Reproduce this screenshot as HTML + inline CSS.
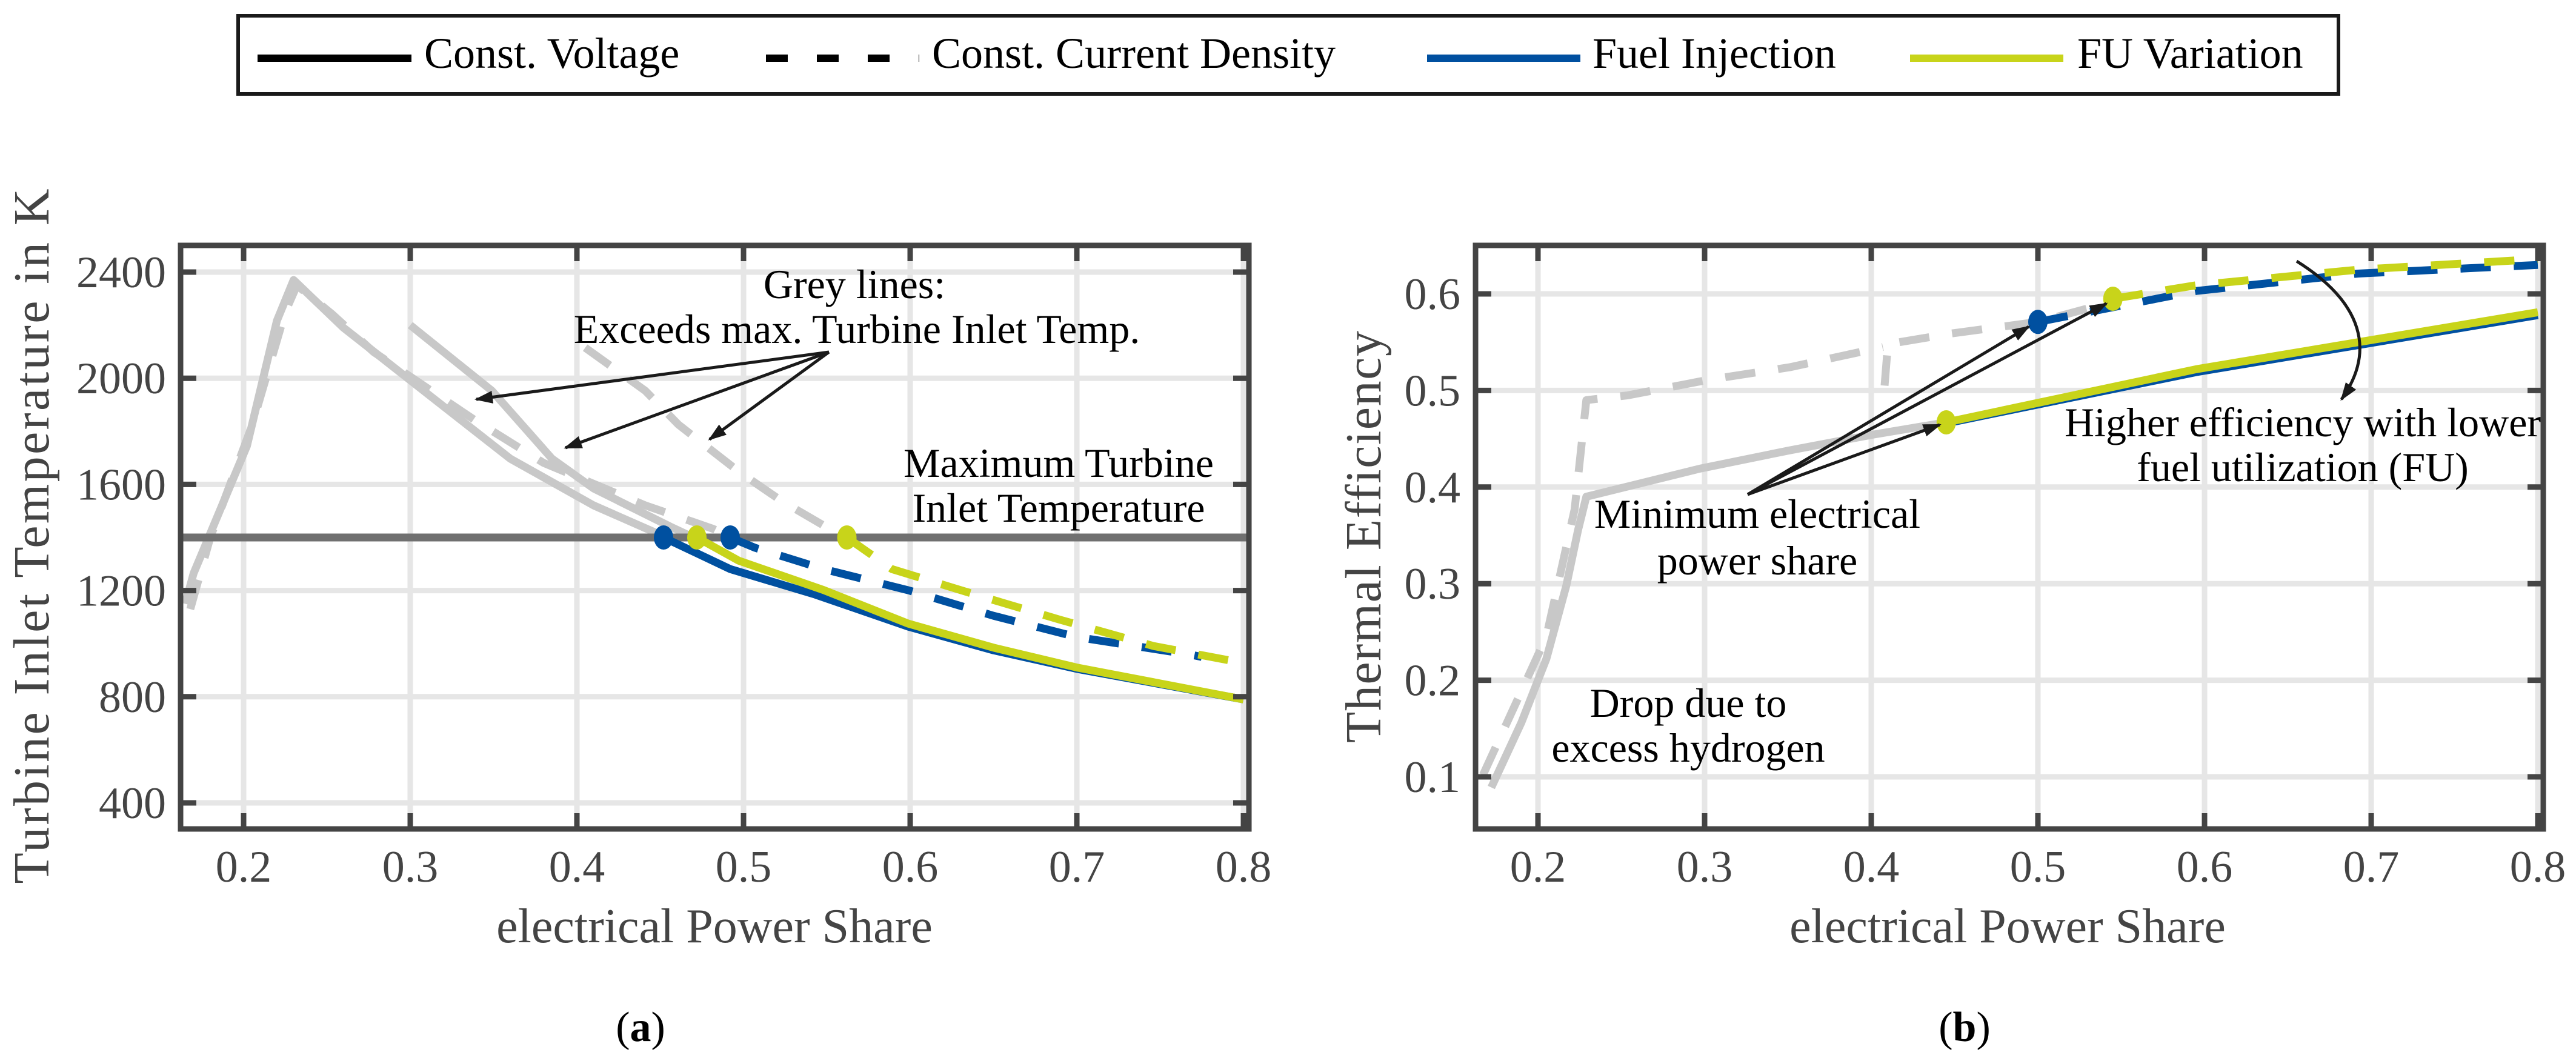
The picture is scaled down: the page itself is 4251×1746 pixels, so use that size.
<!DOCTYPE html>
<html><head><meta charset="utf-8"><style>
html,body{margin:0;padding:0;background:#fff;}
svg{display:block;font-family:"Liberation Serif",serif;}
</style></head><body>
<svg id="fig" width="4251" height="1746" viewBox="0 0 4251 1746" xmlns="http://www.w3.org/2000/svg">
<defs>
<marker id="ah" viewBox="0 0 10 10" refX="9" refY="5" markerWidth="6" markerHeight="6" markerUnits="strokeWidth" orient="auto"><path d="M0,1.5 L10,5 L0,8.5 Z" fill="#1a1a1a"/></marker>
</defs>
<g id="legend">
<rect x="393" y="26" width="3466" height="129" fill="#fff" stroke="#1a1a1a" stroke-width="6"/>
<g><line x1="425" y1="96" x2="679" y2="96" stroke="#000" stroke-width="12"/><text x="700" y="112" font-size="72" fill="#000">Const. Voltage</text></g>
<g><line x1="1264" y1="96" x2="1517" y2="96" stroke="#000" stroke-width="12" stroke-dasharray="36,48"/><text x="1538" y="112" font-size="72" fill="#000">Const. Current Density</text></g>
<g><line x1="2355" y1="96" x2="2608" y2="96" stroke="#0050a0" stroke-width="12"/><text x="2628" y="112" font-size="72" fill="#000">Fuel Injection</text></g>
<g><line x1="3152" y1="96" x2="3405" y2="96" stroke="#c8d41a" stroke-width="12"/><text x="3428" y="112" font-size="72" fill="#000">FU Variation</text></g>
</g>
<g id="plotA"></g>
<g id="plotB"></g>
</svg>
<script>
// ---- Plot A data ----
const xTicks = [0.2,0.3,0.4,0.5,0.6,0.7,0.8];
const xTickLabels = ["0.2","0.3","0.4","0.5","0.6","0.7","0.8"];
const aYTicks = [400,800,1200,1600,2000,2400];
const aYTickLabels = ["400","800","1200","1600","2000","2400"];
const aMaxTIT = 1400;
const aGreyCV1 = [[0.165,1150],[0.17,1265],[0.202,1745],[0.22,2217],[0.23,2370],[0.26,2190],[0.308,1953],[0.36,1697],[0.41,1521],[0.448,1416],[0.452,1400]];
const aGreyCV2 = [[0.30,2200],[0.349,1953],[0.385,1697],[0.41,1585],[0.456,1441],[0.47,1400]];
const aGreyCCD1 = [[0.168,1130],[0.18,1400],[0.205,1820],[0.225,2250],[0.232,2350],[0.253,2242],[0.278,2099],[0.339,1841],[0.38,1681],[0.441,1521],[0.482,1432],[0.492,1400]];
const aGreyCCD2 = [[0.405,2115],[0.441,1953],[0.461,1825],[0.497,1649],[0.523,1537],[0.558,1409],[0.562,1400]];
const aBlueCV = [[0.452,1400],[0.492,1281],[0.543,1185],[0.599,1064],[0.65,975],[0.70,905],[0.8,790]];
const aYellowCV = [[0.472,1400],[0.497,1313],[0.548,1202],[0.599,1075],[0.65,985],[0.70,910],[0.8,790]];
const aBlueCCD = [[0.492,1400],[0.507,1361],[0.548,1281],[0.599,1201],[0.65,1105],[0.70,1025],[0.767,960],[0.775,950]];
const aYellowCCD = [[0.562,1400],[0.589,1281],[0.639,1185],[0.69,1090],[0.746,991],[0.8,927]];
const aBlueMarkers = [[0.452,1400],[0.492,1400]];
const aYellowMarkers = [[0.472,1400],[0.562,1400]];
// ---- Plot B data ----
const bYTicks = [0.1,0.2,0.3,0.4,0.5,0.6];
const bYTickLabels = ["0.1","0.2","0.3","0.4","0.5","0.6"];
const bGreyCV = [[0.172,0.089],[0.19,0.156],[0.205,0.222],[0.217,0.298],[0.224,0.355],[0.229,0.39],[0.297,0.419],[0.351,0.438],[0.40,0.454],[0.445,0.467]];
const bGreyCCD1 = [[0.167,0.102],[0.205,0.245],[0.222,0.377],[0.229,0.49],[0.254,0.495],[0.302,0.511],[0.351,0.524],[0.407,0.545]];
const bGreyCCD2 = [[0.408,0.505],[0.41,0.548],[0.448,0.559],[0.5,0.571],[0.545,0.592]];
const bBlueCV = [[0.445,0.466],[0.595,0.519],[0.8,0.578]];
const bYellowCV = [[0.445,0.467],[0.595,0.522],[0.8,0.581]];
const bBlueCCD = [[0.5,0.571],[0.595,0.603],[0.692,0.621],[0.8,0.630]];
const bYellowCCD = [[0.545,0.595],[0.595,0.609],[0.692,0.625],[0.8,0.636]];
const bBlueMarkers = [[0.5,0.571]];
const bYellowMarkers = [[0.545,0.595],[0.445,0.467]];

const NS="http://www.w3.org/2000/svg";
function mk(tag,parent,attrs){const e=document.createElementNS(NS,tag);for(const k in attrs)e.setAttribute(k,attrs[k]);parent.appendChild(e);return e;}

const axA={x0:402,x1:2052,v0:0.2,v1:0.8, yTop:405,yBot:1368, left:298,right:2061};
axA.X=v=>axA.x0+(v-axA.v0)/(axA.v1-axA.v0)*(axA.x1-axA.x0);
axA.Y=t=>449+(2400-t)*(876/2000);
const axB={x0:2538,x1:4188,v0:0.2,v1:0.8, yTop:405,yBot:1368, left:2435,right:4197};
axB.X=v=>axB.x0+(v-axB.v0)/(axB.v1-axB.v0)*(axB.x1-axB.x0);
axB.Y=e=>485+(0.6-e)*1594;

function frame(g,ax,yTicks){
  for(const v of xTicks){const x=ax.X(v);const l=mk('line',g,{x1:x,y1:ax.yTop,x2:x,y2:ax.yBot,stroke:'#e6e6e6','stroke-width':9});
    
    }
  for(const t of yTicks){const y=ax.Y(t);const l=mk('line',g,{x1:ax.left,y1:y,x2:ax.right,y2:y,stroke:'#e6e6e6','stroke-width':9});
    
    }
}
function ticks(g,ax,yTicks,yLabels,labelRight){
  const r=mk('rect',g,{x:ax.left,y:ax.yTop,width:ax.right-ax.left,height:ax.yBot-ax.yTop,fill:'none',stroke:'#444','stroke-width':9});
  
  
  xTicks.forEach((v,i)=>{const x=ax.X(v);
    mk('line',g,{x1:x,y1:ax.yBot,x2:x,y2:ax.yBot-26,stroke:'#444','stroke-width':9});
    mk('line',g,{x1:x,y1:ax.yTop,x2:x,y2:ax.yTop+26,stroke:'#444','stroke-width':9});
    const t=mk('text',g,{x:x,y:1455,'font-size':74,fill:'#444','text-anchor':'middle'});t.textContent=xTickLabels[i];
    
    });
  yTicks.forEach((v,i)=>{const y=ax.Y(v);
    mk('line',g,{x1:ax.left,y1:y,x2:ax.left+26,y2:y,stroke:'#444','stroke-width':9});
    mk('line',g,{x1:ax.right,y1:y,x2:ax.right-26,y2:y,stroke:'#444','stroke-width':9});
    const t=mk('text',g,{x:labelRight,y:y+25,'font-size':74,fill:'#444','text-anchor':'end'});t.textContent=yLabels[i];
    
    });
}
function line(g,ax,pts,color,dash,name,w){
  const d=pts.map((p,i)=>(i?'L':'M')+ax.X(p[0]).toFixed(1)+','+ax.Y(p[1]).toFixed(1)).join(' ');
  const a={d:d,fill:'none',stroke:color,'stroke-width':w||13,'stroke-linejoin':'round'};
  if(dash)a['stroke-dasharray']='50,38';
  const p=mk('path',g,a);
  
  
}
function markers(g,ax,pts,color,name){
  for(const p of pts){const c=mk('ellipse',g,{cx:ax.X(p[0]),cy:ax.Y(p[1]),rx:16,ry:20,fill:color});
    
    }
}
function txt(g,x,y,s,size,name,extra){const t=mk('text',g,Object.assign({x:x,y:y,'font-size':size,fill:'#000','text-anchor':'middle'},extra||{}));t.textContent=s;
  
  return t;}
function arrow(g,x1,y1,x2,y2,name){const l=mk('line',g,{x1:x1,y1:y1,x2:x2,y2:y2,stroke:'#1a1a1a','stroke-width':5,'marker-end':'url(#ah)'});
  
  }

const GREY='#c8c8c8',BLUE='#0050a0',YEL='#c8d41a';
// Plot A
const gA=document.getElementById('plotA');
frame(gA,axA,aYTicks);
line(gA,axA,aGreyCV1,GREY,false,'grey-const-voltage-line-1');
line(gA,axA,aGreyCCD1,GREY,true,'grey-const-current-line-1');
line(gA,axA,aGreyCV2,GREY,false,'grey-const-voltage-line-2');
line(gA,axA,aGreyCCD2,GREY,true,'grey-const-current-line-2');
(function(){const y=axA.Y(aMaxTIT);const l=mk('line',gA,{x1:axA.left,y1:y,x2:axA.right,y2:y,stroke:'#707070','stroke-width':13});
 
 })();
line(gA,axA,aBlueCCD,BLUE,true,'fuel-injection-const-current-line');
line(gA,axA,aYellowCCD,YEL,true,'fu-variation-const-current-line');
line(gA,axA,aBlueCV,BLUE,false,'fuel-injection-const-voltage-line');
line(gA,axA,aYellowCV,YEL,false,'fu-variation-const-voltage-line');
markers(gA,axA,aBlueMarkers,BLUE,'fuel-injection-marker');
markers(gA,axA,aYellowMarkers,YEL,'fu-variation-marker');
ticks(gA,axA,aYTicks,aYTickLabels,274);
txt(gA,1410,492,'Grey lines:',68,'annotation-grey-lines');
txt(gA,1414,566,'Exceeds max. Turbine Inlet Temp.',68,'annotation-exceeds-max');
arrow(gA,1368,581,786,659,'annotation-arrow-1');
arrow(gA,1368,581,933,739,'annotation-arrow-2');
arrow(gA,1368,581,1171,725,'annotation-arrow-3');
txt(gA,1747,787,'Maximum Turbine',68,'annotation-max-tit-1');
txt(gA,1747,861,'Inlet Temperature',68,'annotation-max-tit-2');
txt(gA,52,885,'Turbine Inlet Temperature in K',84,'y-axis-title-a',{fill:'#444',transform:'rotate(-90 52 885)',dy:'28',textLength:'1147',lengthAdjust:'spacing'});
txt(gA,1179,1555,'electrical Power Share',80,'x-axis-title-a',{fill:'#444'});
(function(){const t=txt(gA,1057,1718,'',70,'subfigure-label-a');
 const s1=mk('tspan',t,{});s1.textContent='(';const s2=mk('tspan',t,{'font-weight':'bold'});s2.textContent='a';const s3=mk('tspan',t,{});s3.textContent=')';})();

// Plot B
const gB=document.getElementById('plotB');
frame(gB,axB,bYTicks);
line(gB,axB,bGreyCCD1,GREY,true,'grey-const-current-line-1');
line(gB,axB,bGreyCCD2,GREY,true,'grey-const-current-line-2');
line(gB,axB,bGreyCV,GREY,false,'grey-const-voltage-line');
line(gB,axB,bBlueCCD,BLUE,true,'fuel-injection-const-current-line');
line(gB,axB,bYellowCCD,YEL,true,'fu-variation-const-current-line');
line(gB,axB,bBlueCV,BLUE,false,'fuel-injection-const-voltage-line');
line(gB,axB,bYellowCV,YEL,false,'fu-variation-const-voltage-line');
markers(gB,axB,bBlueMarkers,BLUE,'fuel-injection-marker');
markers(gB,axB,bYellowMarkers,YEL,'fu-variation-marker');
ticks(gB,axB,bYTicks,bYTickLabels,2410);
txt(gB,2900,871,'Minimum electrical',68,'annotation-minimum-1');
txt(gB,2900,948,'power share',68,'annotation-minimum-2');
arrow(gB,2884,816,3348,539,'annotation-arrow-min-1');
arrow(gB,2884,816,3476,501,'annotation-arrow-min-2');
arrow(gB,2884,816,3201,701,'annotation-arrow-min-3');
txt(gB,3800,720,'Higher efficiency with lower',68,'annotation-higher-efficiency-1');
txt(gB,3800,794,'fuel utilization (FU)',68,'annotation-higher-efficiency-2');
(function(){const p=mk('path',gB,{d:'M3790,431 C3900,500 3920,580 3864,659',fill:'none',stroke:'#1a1a1a','stroke-width':5,'marker-end':'url(#ah)'});
 
 })();
txt(gB,2786,1183,'Drop due to',68,'annotation-drop-1');
txt(gB,2786,1257,'excess hydrogen',68,'annotation-drop-2');
txt(gB,2250,886,'Thermal Efficiency',84,'y-axis-title-b',{fill:'#444',transform:'rotate(-90 2250 886)',dy:'28',textLength:'680',lengthAdjust:'spacing'});
txt(gB,3313,1555,'electrical Power Share',80,'x-axis-title-b',{fill:'#444'});
(function(){const t=txt(gB,3242,1718,'',70,'subfigure-label-b');
 const s1=mk('tspan',t,{});s1.textContent='(';const s2=mk('tspan',t,{'font-weight':'bold'});s2.textContent='b';const s3=mk('tspan',t,{});s3.textContent=')';})();
</script>
</body></html>
